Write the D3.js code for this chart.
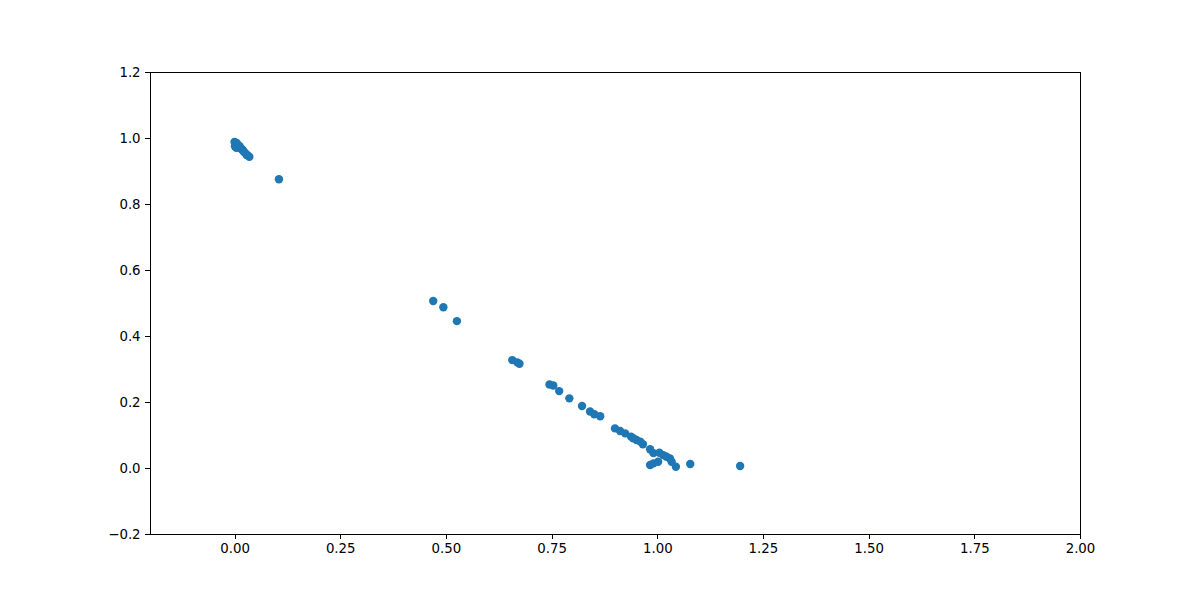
<!DOCTYPE html>
<html><head><meta charset="utf-8">
<script src="https://cdn.jsdelivr.net/npm/d3@7"></script>
<style>body{margin:0;background:#fff}svg{display:block}</style>
</head><body>
<script>
const xValues = [0.000,0.002,0.001,0.005,0.008,0.004,0.010,0.012,0.015,0.018,0.020,0.022,0.025,0.028,0.030,0.035,
  0.105,0.470,0.494,0.526,0.657,0.674,0.669,0.745,0.754,0.768,0.792,0.822,0.841,0.851,0.865,
  0.900,0.912,0.924,0.943,0.951,0.966,0.983,0.991,1.005,1.014,1.022,1.030,1.034,1.044,0.983,0.991,1.002,1.078,1.196,0.960,0.938];
const yValues = [0.988,0.982,0.975,0.985,0.978,0.970,0.972,0.975,0.968,0.965,0.962,0.958,0.955,0.950,0.948,0.943,
  0.875,0.506,0.487,0.445,0.327,0.316,0.320,0.253,0.250,0.233,0.211,0.188,0.171,0.163,0.157,
  0.120,0.112,0.105,0.090,0.085,0.072,0.057,0.045,0.046,0.039,0.034,0.029,0.019,0.004,0.009,0.014,0.019,0.012,0.006,0.080,0.095];
const xTicks = [0,0.25,0.5,0.75,1.0,1.25,1.5,1.75,2.0];
const yTicks = [-0.2,0,0.2,0.4,0.6,0.8,1.0,1.2];

const W=1200,H=600, L=150,R=1080,T=72,B=534;
const svg=d3.select("body").append("svg").attr("width",W).attr("height",H);
const x=d3.scaleLinear().domain([-0.2,2.0]).range([L,R]);
const y=d3.scaleLinear().domain([-0.2,1.2]).range([B,T]);
const fmt=v=>{const s=v.toFixed(1);return v<0?"\u2212"+s.slice(1):s;};

svg.append("g").selectAll("circle").data(xValues).join("circle")
  .attr("cx",(d)=>x(d)).attr("cy",(d,i)=>y(yValues[i])).attr("r",4.2).attr("fill","#1f77b4");

const xa=svg.append("g").attr("transform",`translate(0,${B})`)
  .call(d3.axisBottom(x).tickValues(xTicks).tickFormat(d3.format(".2f")).tickSize(4.7).tickPadding(4.7));
const ya=svg.append("g").attr("transform",`translate(${L},0)`)
  .call(d3.axisLeft(y).tickValues(yTicks).tickFormat(fmt).tickSize(4.7).tickPadding(4.7));
[xa,ya].forEach(a=>{a.select(".domain").remove();a.selectAll("text").attr("font-family","DejaVu Sans").attr("font-size","13.33px").attr("fill","#000");a.selectAll("line").attr("stroke","#000").attr("stroke-width",1).attr("shape-rendering","crispEdges");});
svg.append("rect").attr("x",L).attr("y",T).attr("width",R-L).attr("height",B-T).attr("fill","none").attr("stroke","#000").attr("stroke-width",1).attr("shape-rendering","crispEdges");
</script>
</body></html>
